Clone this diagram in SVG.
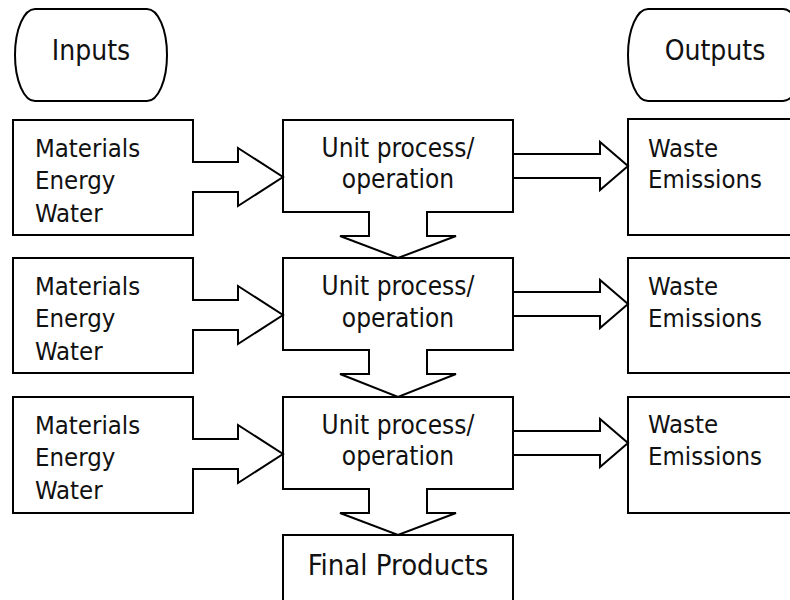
<svg xmlns="http://www.w3.org/2000/svg" width="790" height="600" viewBox="0 0 790 600">
<style>
.n{fill:#fff;stroke:#000;stroke-width:2}
.c{fill:#fff;stroke:#000;stroke-width:2;stroke-linejoin:miter}
text{font-family:"DejaVu Sans Condensed","DejaVu Sans",sans-serif;font-stretch:condensed;font-size:25.5px;fill:#111}
.m{text-anchor:middle}
.p{font-size:26px}
.t{font-size:28px}
.f{font-size:29px}
</style>
<rect width="790" height="600" fill="#fff"/>
<g id="inputs">
<path class="n" d="M35,9 H147 A20,46 0 0 1 147,101 H35 A20,46 0 0 1 35,9 Z"/>
<text class="m t" x="91" y="60">Inputs</text>
</g>
<g id="outputs">
<path class="n" d="M648,9 H783 A20,46 0 0 1 783,101 H648 A20,46 0 0 1 648,9 Z"/>
<text class="m t" x="715" y="60">Outputs</text>
</g>
<g id="in1"><rect class="n" x="13" y="120" width="180" height="115"/>
<text x="35" y="157">Materials</text><text x="35" y="189">Energy</text><text x="35" y="222">Water</text></g>
<g id="in2"><rect class="n" x="13" y="258" width="180" height="115"/>
<text x="35" y="295">Materials</text><text x="35" y="327">Energy</text><text x="35" y="360">Water</text></g>
<g id="in3"><rect class="n" x="13" y="397" width="180" height="116"/>
<text x="35" y="434">Materials</text><text x="35" y="466">Energy</text><text x="35" y="499">Water</text></g>
<g id="p1"><rect class="n" x="283" y="120" width="230" height="92"/>
<text class="m p" x="398" y="157">Unit process/</text><text class="m p" x="398" y="188">operation</text></g>
<g id="p2"><rect class="n" x="283" y="258" width="230" height="92"/>
<text class="m p" x="398" y="295">Unit process/</text><text class="m p" x="398" y="327">operation</text></g>
<g id="p3"><rect class="n" x="283" y="397" width="230" height="92"/>
<text class="m p" x="398" y="434">Unit process/</text><text class="m p" x="398" y="465">operation</text></g>
<g id="out1"><rect class="n" x="628" y="119" width="180" height="116"/>
<text x="648" y="157">Waste</text><text x="648" y="188">Emissions</text></g>
<g id="out2"><rect class="n" x="628" y="258" width="180" height="115"/>
<text x="648" y="295">Waste</text><text x="648" y="327">Emissions</text></g>
<g id="out3"><rect class="n" x="628" y="397" width="180" height="116"/>
<text x="648" y="433">Waste</text><text x="648" y="465">Emissions</text></g>
<g id="final"><rect class="n" x="283" y="535" width="230" height="80"/>
<text class="m f" x="398" y="575">Final Products</text></g>
<g id="connectors">
<path class="c" d="M192,162 H238 V148 L283,177 L238,206 V192 H192"/>
<path class="c" d="M192,300 H238 V286 L283,315 L238,344 V330 H192"/>
<path class="c" d="M192,439 H238 V425 L283,454 L238,483 V469 H192"/>
<path class="c" d="M514,154 H600 V142 L628,166 L600,190 V178 H514"/>
<path class="c" d="M514,292 H600 V280 L628,304 L600,328 V316 H514"/>
<path class="c" d="M514,431 H600 V419 L628,443 L600,467 V455 H514"/>
<path class="c" d="M369,211 V236 H340 L398,258 L456,236 H427 V211"/>
<path class="c" d="M369,349 V374 H340 L398,397 L456,374 H427 V349"/>
<path class="c" d="M369,488 V513 H340 L398,535 L456,513 H427 V488"/>
</g>
</svg>
